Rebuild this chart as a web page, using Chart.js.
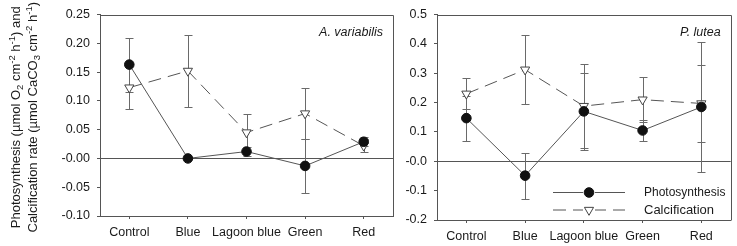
<!DOCTYPE html>
<html>
<head>
<meta charset="utf-8">
<script src="https://cdn.jsdelivr.net/npm/chart.js@4.4.1/dist/chart.umd.min.js"></script>
<style>
  html, body { margin: 0; padding: 0; background: #fff; }
  #wrap { position: relative; width: 737px; height: 246px; }
  #c1 { position: absolute; left: 0; top: 0; }
  #c2 { position: absolute; left: 405px; top: 0; }
</style>
</head>
<body>
<div id="wrap">
  <canvas id="c1" width="405" height="246"></canvas>
  <canvas id="c2" width="332" height="246"></canvas>
</div>
<script>
const categories = ["Control", "Blue", "Lagoon blue", "Green", "Red"];

// A. variabilis
const avPhoto = [0.163, 0.000, 0.012, -0.013, 0.029];
const avPhotoErr = [0.047, 0.000, 0.008, 0.047, 0.008];
const avCalc = [0.123, 0.152, 0.045, 0.078, 0.022];
const avCalcErr = [0.037, 0.062, 0.032, 0.044, 0.011];

// P. lutea
const plPhoto = [0.147, -0.049, 0.170, 0.105, 0.185];
const plPhotoErr = [0.077, 0.078, 0.130, 0.035, 0.220];
const plCalc = [0.230, 0.312, 0.188, 0.210, 0.197];
const plCalcErr = [0.053, 0.117, 0.142, 0.077, 0.130];

const FONT = "'Liberation Sans', Arial, sans-serif";
const AXIS = "#555";
const TEXT = "#1a1a1a";

// draws text pieces with sub/superscripts, centred on x=0
function drawRich(ctx, segs) {
  let total = 0;
  segs.forEach(s => {
    ctx.font = (s.t ? "9.5px " : "13px ") + FONT;
    s.w = ctx.measureText(s.s).width;
    total += s.w;
  });
  let x = -total / 2;
  ctx.textBaseline = "alphabetic";
  ctx.textAlign = "left";
  segs.forEach(s => {
    ctx.font = (s.t ? "9.5px " : "13px ") + FONT;
    let dy = 0;
    if (s.t === "sup") dy = -5.5;
    if (s.t === "sub") dy = 3;
    ctx.fillText(s.s, x, dy);
    x += s.w;
  });
}

const frame = {
  id: "frame",
  beforeDatasetsDraw(chart) {
    const ctx = chart.ctx;
    const a = chart.chartArea;
    const y = chart.scales.y;
    const x = chart.scales.x;
    ctx.save();
    ctx.strokeStyle = AXIS;
    ctx.lineWidth = 1;
    // zero line
    const y0 = Math.round(y.getPixelForValue(0)) + 0.5;
    ctx.beginPath();
    ctx.moveTo(a.left - 3, y0);
    ctx.lineTo(a.right, y0);
    ctx.stroke();
    // box
    ctx.beginPath();
    ctx.moveTo(Math.round(a.left) + 0.5, Math.round(a.top) + 0.5);
    ctx.lineTo(Math.round(a.right) + 0.5, Math.round(a.top) + 0.5);
    ctx.lineTo(Math.round(a.right) + 0.5, Math.round(a.bottom) + 0.5);
    ctx.stroke();
    // error bars
    ctx.strokeStyle = "#6a6a6a";
    chart.data.datasets.forEach(ds => {
      ds.data.forEach((v, i) => {
        const e = ds.err[i];
        if (!e) return;
        const px = Math.round(x.getPixelForValue(i)) + 0.5;
        const hi = Math.round(y.getPixelForValue(v + e)) + 0.5;
        const lo = Math.round(y.getPixelForValue(v - e)) + 0.5;
        ctx.beginPath();
        ctx.moveTo(px, hi); ctx.lineTo(px, lo);
        ctx.moveTo(px - 4, hi); ctx.lineTo(px + 4, hi);
        ctx.moveTo(px - 4, lo); ctx.lineTo(px + 4, lo);
        ctx.stroke();
      });
    });
    ctx.restore();
  },
  afterDraw(chart) {
    const ctx = chart.ctx;
    const a = chart.chartArea;
    const o = chart.options.plugins.frame;
    ctx.save();
    ctx.fillStyle = TEXT;
    ctx.font = "italic 12.5px " + FONT;
    ctx.textAlign = "right";
    ctx.textBaseline = "middle";
    ctx.fillText(o.species, a.right - 10, a.top + o.speciesDy);

    if (o.yTitle) {
      ctx.save();
      ctx.translate(20, (a.top + a.bottom) / 2 + 2);
      ctx.rotate(-Math.PI / 2);
      drawRich(ctx, [
        { s: "Photosynthesis (\u00b5mol O" }, { s: "2", t: "sub" }, { s: " cm" },
        { s: "-2", t: "sup" }, { s: " h" }, { s: "-1", t: "sup" }, { s: ") and" }
      ]);
      ctx.restore();
      ctx.save();
      ctx.translate(37, (a.top + a.bottom) / 2 + 2);
      ctx.rotate(-Math.PI / 2);
      drawRich(ctx, [
        { s: "Calcification rate (\u00b5mol CaCO" }, { s: "3", t: "sub" }, { s: " cm" },
        { s: "-2", t: "sup" }, { s: " h" }, { s: "-1", t: "sup" }, { s: ")" }
      ]);
      ctx.restore();
    }

    if (o.legend) {
      const ds = chart.data.datasets;
      const x1 = 553 - 405, x2 = 625 - 405, xm = 589 - 405;
      const rows = [192.5, 210];
      ds.forEach((d, k) => {
        const ly = rows[k];
        ctx.strokeStyle = AXIS;
        ctx.lineWidth = 1;
        ctx.setLineDash(d.borderDash || []);
        ctx.beginPath();
        ctx.moveTo(x1, ly); ctx.lineTo(x2, ly);
        ctx.stroke();
        ctx.setLineDash([]);
        ctx.fillStyle = "#fff";
        ctx.fillRect(xm - 6, ly - 6, 12, 12);
        ctx.fillStyle = d.pointBackgroundColor;
        ctx.strokeStyle = d.pointBorderColor;
        Chart.helpers.drawPoint(ctx, {
          pointStyle: d.pointStyle, rotation: d.pointRotation || 0,
          radius: d.pointRadius, borderWidth: 1
        }, xm, ly);
        ctx.fillStyle = TEXT;
        ctx.font = (k === 0 ? "12px " : "13px ") + FONT;
        ctx.textAlign = "left";
        ctx.textBaseline = "middle";
        ctx.fillText(d.label, 644 - 405, ly);
      });
    }
    ctx.restore();
  }
};

function makeChart(id, photo, photoErr, calc, calcErr, cfg) {
  const ctx = document.getElementById(id).getContext("2d");
  return new Chart(ctx, {
    type: "line",
    data: {
      labels: categories,
      datasets: [
        {
          label: "Photosynthesis",
          data: photo,
          err: photoErr,
          borderColor: AXIS,
          borderWidth: 1,
          pointStyle: "circle",
          pointRadius: 4.8,
          pointBackgroundColor: "#111",
          pointBorderColor: "#111",
          pointBorderWidth: 1,
          tension: 0,
          order: 1
        },
        {
          label: "Calcification",
          data: calc,
          err: calcErr,
          borderColor: AXIS,
          borderWidth: 1,
          borderDash: [13, 7],
          pointStyle: "triangle",
          pointRotation: 180,
          pointRadius: 5.3,
          pointBackgroundColor: "#fff",
          pointBorderColor: "#444",
          pointBorderWidth: 1,
          tension: 0,
          order: 2
        }
      ]
    },
    options: {
      responsive: false,
      animation: false,
      events: [],
      layout: { padding: { left: 0, top: cfg.top, right: cfg.right, bottom: 0 } },
      plugins: {
        legend: { display: false },
        tooltip: { enabled: false },
        frame: { species: cfg.species, speciesDy: cfg.speciesDy, yTitle: cfg.yTitle, legend: cfg.legend }
      },
      scales: {
        x: {
          type: "category",
          offset: true,
          grid: { display: true, drawOnChartArea: false, drawTicks: true, tickLength: 3, color: AXIS, offset: false },
          border: { display: true, color: AXIS, width: 1 },
          ticks: { color: TEXT, font: { family: FONT, size: 12.5 }, padding: 6, maxRotation: 0, autoSkip: false },
          afterFit: s => { s.height = cfg.xh; }
        },
        y: {
          min: cfg.min,
          max: cfg.max,
          grid: { display: true, drawOnChartArea: false, drawTicks: true, tickLength: 3, color: AXIS },
          border: { display: true, color: AXIS, width: 1 },
          ticks: {
            stepSize: cfg.step,
            color: TEXT,
            font: { family: FONT, size: 12.5 },
            padding: 7,
            callback: v => Number(v).toFixed(cfg.dec)
          },
          afterFit: s => { s.width = cfg.yw; }
        }
      }
    },
    plugins: [frame]
  });
}

makeChart("c1", avPhoto, avPhotoErr, avCalc, avCalcErr, {
  top: 10, right: 12, xh: 30, yw: 100, min: -0.10, max: 0.25, step: 0.05, dec: 2,
  species: "A. variabilis", speciesDy: 18, yTitle: true, legend: false
});

makeChart("c2", plPhoto, plPhotoErr, plCalc, plCalcErr, {
  top: 14, right: 3, xh: 26, yw: 32, min: -0.2, max: 0.5, step: 0.1, dec: 1,
  species: "P. lutea", speciesDy: 18, yTitle: false, legend: true
});
</script>
</body>
</html>
